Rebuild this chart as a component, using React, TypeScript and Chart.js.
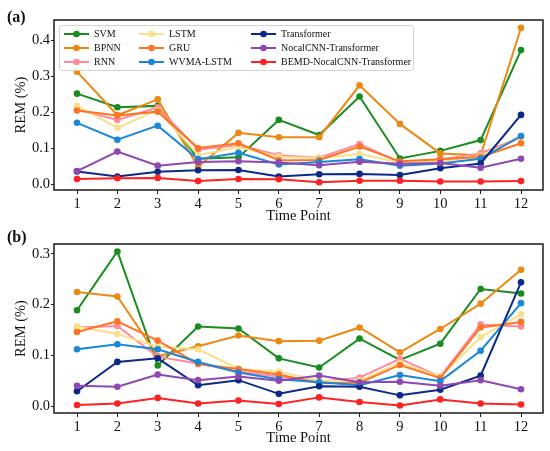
import React, { useEffect, useRef } from 'react';
import { Chart, registerables } from 'chart.js';

Chart.register(...registerables);

// ---------- data ----------
const timePoints = [1, 2, 3, 4, 5, 6, 7, 8, 9, 10, 11, 12];
const yTicksA = [0, 0.1, 0.2, 0.3, 0.4];
const yTicksB = [0, 0.1, 0.2, 0.3];

const seriesNames = [
  'SVM', 'BPNN', 'RNN', 'LSTM', 'GRU', 'WVMA-LSTM',
  'Transformer', 'NocalCNN-Transformer', 'BEMD-NocalCNN-Transformer',
];
const seriesColors = [
  '#1a8c1f', '#ec8914', '#ff8a9c', '#f8e08c', '#fd7524', '#1a87d9',
  '#0b2a88', '#8e48b0', '#ff2222',
];

// Panel (a)
const svmA = [0.251, 0.213, 0.217, 0.070, 0.074, 0.178, 0.136, 0.243, 0.071, 0.092, 0.122, 0.372];
const bpnnA = [0.312, 0.191, 0.235, 0.048, 0.142, 0.130, 0.130, 0.274, 0.167, 0.085, 0.080, 0.434];
const rnnA = [0.207, 0.178, 0.213, 0.095, 0.108, 0.080, 0.073, 0.111, 0.060, 0.068, 0.085, 0.130];
const lstmA = [0.217, 0.156, 0.205, 0.080, 0.103, 0.076, 0.072, 0.083, 0.060, 0.063, 0.078, 0.128];
const gruA = [0.204, 0.190, 0.201, 0.100, 0.113, 0.066, 0.067, 0.104, 0.063, 0.069, 0.075, 0.113];
const wvmaA = [0.170, 0.123, 0.162, 0.069, 0.087, 0.054, 0.061, 0.069, 0.051, 0.057, 0.070, 0.133];
const transA = [0.035, 0.021, 0.034, 0.038, 0.039, 0.021, 0.027, 0.028, 0.025, 0.044, 0.057, 0.192];
const nocalA = [0.036, 0.090, 0.051, 0.061, 0.063, 0.060, 0.052, 0.062, 0.056, 0.058, 0.045, 0.070];
const bemdA = [0.014, 0.016, 0.017, 0.008, 0.014, 0.013, 0.005, 0.009, 0.009, 0.007, 0.007, 0.008];

// Panel (b)
const svmB = [0.189, 0.305, 0.080, 0.157, 0.153, 0.094, 0.076, 0.133, 0.091, 0.123, 0.231, 0.222];
const bpnnB = [0.225, 0.216, 0.098, 0.118, 0.139, 0.128, 0.129, 0.155, 0.106, 0.152, 0.202, 0.269];
const rnnB = [0.155, 0.158, 0.097, 0.084, 0.068, 0.058, 0.048, 0.056, 0.093, 0.058, 0.161, 0.157];
const lstmB = [0.157, 0.142, 0.117, 0.112, 0.073, 0.068, 0.050, 0.050, 0.085, 0.058, 0.136, 0.181];
const gruB = [0.146, 0.167, 0.129, 0.083, 0.073, 0.062, 0.045, 0.046, 0.081, 0.055, 0.155, 0.166];
const wvmaB = [0.112, 0.122, 0.112, 0.087, 0.066, 0.053, 0.047, 0.041, 0.061, 0.049, 0.109, 0.203];
const transB = [0.029, 0.087, 0.094, 0.041, 0.051, 0.024, 0.039, 0.038, 0.021, 0.032, 0.060, 0.244];
const nocalB = [0.040, 0.038, 0.062, 0.051, 0.058, 0.050, 0.060, 0.047, 0.048, 0.040, 0.051, 0.033];
const bemdB = [0.002, 0.005, 0.016, 0.005, 0.011, 0.004, 0.017, 0.008, 0.001, 0.013, 0.005, 0.003];

const panelASeries = [svmA, bpnnA, rnnA, lstmA, gruA, wvmaA, transA, nocalA, bemdA];
const panelBSeries = [svmB, bpnnB, rnnB, lstmB, gruB, wvmaB, transB, nocalB, bemdB];

// ---------- chart helpers ----------
const FONT = 'Liberation Serif, Times New Roman, serif';

const framePlugin = {
  id: 'frameBox',
  afterDraw(chart: any) {
    const { ctx, chartArea } = chart;
    const { left, top, right, bottom } = chartArea;
    ctx.save();
    ctx.strokeStyle = '#1a1a1a';
    ctx.lineWidth = 1.5;
    ctx.strokeRect(left, top, right - left, bottom - top);
    ctx.restore();
  },
};

function buildDatasets(series: number[][]) {
  const n = series.length;
  return series.map((vals, i) => ({
    label: seriesNames[i],
    data: vals.map((v, j) => ({ x: timePoints[j], y: v })),
    borderColor: seriesColors[i],
    backgroundColor: seriesColors[i],
    pointBackgroundColor: seriesColors[i],
    pointBorderColor: seriesColors[i],
    pointBorderWidth: 0,
    pointRadius: 3.3,
    borderWidth: 2,
    tension: 0,
    order: n - i,
  }));
}

function makeConfig(
  series: number[][],
  yMin: number,
  yMax: number,
  yTicks: number[],
  xAxisHeight: number,
  xTitlePad: number,
) {
  return {
    type: 'line' as const,
    data: { datasets: buildDatasets(series) },
    plugins: [framePlugin],
    options: {
      animation: false as const,
      responsive: false,
      maintainAspectRatio: false,
      events: [] as any[],
      layout: { padding: { left: 0, right: 7, top: 20, bottom: 0 } },
      plugins: {
        legend: { display: false },
        tooltip: { enabled: false },
        title: { display: false },
      },
      scales: {
        x: {
          type: 'linear' as const,
          min: 0.43,
          max: 12.545,
          afterBuildTicks: (scale: any) => {
            scale.ticks = timePoints.map((v) => ({ value: v }));
          },
          afterFit: (scale: any) => {
            scale.height = xAxisHeight;
          },
          ticks: {
            autoSkip: false,
            maxRotation: 0,
            padding: 1,
            color: '#111',
            font: { family: FONT, size: 14.5 },
            callback: (v: any) => String(v),
          },
          grid: {
            display: true,
            drawOnChartArea: false,
            drawTicks: true,
            tickLength: 4,
            tickColor: '#1a1a1a',
            tickWidth: 1,
          },
          border: { display: false },
          title: {
            display: true,
            text: 'Time Point',
            color: '#111',
            font: { family: FONT, size: 14.5 },
            padding: { top: 0, bottom: xTitlePad },
          },
        },
        y: {
          type: 'linear' as const,
          min: yMin,
          max: yMax,
          afterBuildTicks: (scale: any) => {
            scale.ticks = yTicks.map((v) => ({ value: v }));
          },
          afterFit: (scale: any) => {
            scale.width = 54;
          },
          ticks: {
            padding: 1,
            color: '#111',
            font: { family: FONT, size: 14.5 },
            callback: (v: any) => Number(v).toFixed(1),
          },
          grid: {
            display: true,
            drawOnChartArea: false,
            drawTicks: true,
            tickLength: 3,
            tickColor: '#1a1a1a',
            tickWidth: 1,
          },
          border: { display: false },
          title: {
            display: true,
            text: 'REM (%)',
            color: '#111',
            font: { family: FONT, size: 14.5 },
            padding: { top: 12, bottom: 0 },
          },
        },
      },
    },
  };
}

function LegendMarker({ color }: { color: string }) {
  return (
    <svg width={25} height={14} style={{ display: 'block' }}>
      <line x1={0} y1={7} x2={25} y2={7} stroke={color} strokeWidth={2} />
      <circle cx={12.5} cy={7} r={3.3} fill={color} />
    </svg>
  );
}

const legendCols = [4, 79, 191];
const legendRows = [8.3, 22, 36.3];

export default function App() {
  const refA = useRef<HTMLCanvasElement | null>(null);
  const refB = useRef<HTMLCanvasElement | null>(null);

  useEffect(() => {
    const prevMargin = document.body.style.margin;
    document.body.style.margin = '0';
    const chartA = new Chart(
      refA.current as HTMLCanvasElement,
      makeConfig(panelASeries, -6 / 360, 0.4 + 20 / 360, yTicksA, 40, 5) as any,
    );
    const chartB = new Chart(
      refB.current as HTMLCanvasElement,
      makeConfig(panelBSeries, -7 / 506.7, 162 / 506.7, yTicksB, 38, 4) as any,
    );
    return () => {
      chartA.destroy();
      chartB.destroy();
      document.body.style.margin = prevMargin;
    };
  }, []);

  return (
    <div
      style={{
        position: 'fixed',
        left: 0,
        top: 0,
        width: 550,
        height: 451,
        background: '#ffffff',
        fontFamily: FONT,
        color: '#111',
        overflow: 'hidden',
      }}
    >
      <canvas
        ref={refA}
        width={550}
        height={230}
        style={{ position: 'absolute', left: 0, top: 0, width: 550, height: 230 }}
      />
      <canvas
        ref={refB}
        width={550}
        height={227}
        style={{ position: 'absolute', left: 0, top: 224, width: 550, height: 227 }}
      />
      <div
        style={{
          position: 'absolute',
          left: 7,
          top: 8,
          fontWeight: 'bold',
          fontSize: 16,
          lineHeight: '18px',
        }}
      >
        (a)
      </div>
      <div
        style={{
          position: 'absolute',
          left: 7,
          top: 228,
          fontWeight: 'bold',
          fontSize: 16,
          lineHeight: '18px',
        }}
      >
        (b)
      </div>
      <div
        style={{
          position: 'absolute',
          left: 59,
          top: 25,
          width: 355,
          height: 46,
          boxSizing: 'border-box',
          border: '1px solid #d4d4d4',
          borderRadius: 3,
          background: 'rgba(255,255,255,0.8)',
          fontSize: 10,
        }}
      >
        {seriesNames.map((name, i) => {
          const col = Math.floor(i / 3);
          const row = i % 3;
          return (
            <div
              key={name}
              style={{
                position: 'absolute',
                left: legendCols[col],
                top: legendRows[row] - 7,
                height: 14,
                display: 'flex',
                alignItems: 'center',
                whiteSpace: 'nowrap',
              }}
            >
              <LegendMarker color={seriesColors[i]} />
              <span style={{ marginLeft: 5, lineHeight: '14px' }}>{name}</span>
            </div>
          );
        })}
      </div>
    </div>
  );
}
